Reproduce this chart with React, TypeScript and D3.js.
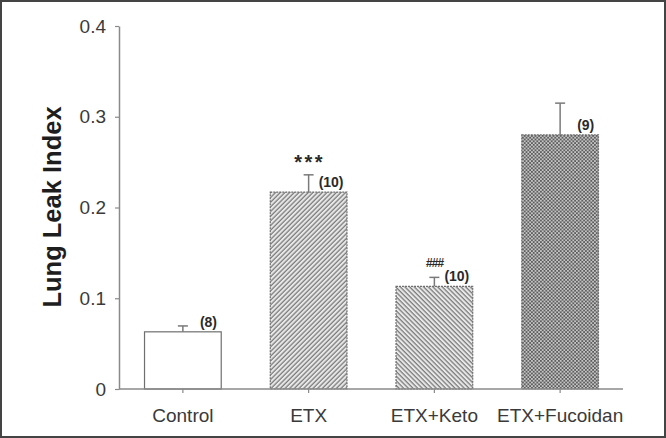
import React, { useEffect, useRef } from 'react';
import * as d3 from 'd3';

const categories = ['Control', 'ETX', 'ETX+Keto', 'ETX+Fucoidan'];
const means = [0.063, 0.217, 0.113, 0.28];
const sems = [0.0065, 0.019, 0.01, 0.035];
const nLabels = ['(8)', '(10)', '(10)', '(9)'];
const sigMarks = ['', '***', '###', ''];
const fills = ['#ffffff', 'url(#hatchFwd)', 'url(#hatchBack)', 'url(#checker)'];
const yTicks = [0, 0.1, 0.2, 0.3, 0.4];

const FONT = '"Liberation Sans", Arial, Helvetica, sans-serif';

const App = () => {
  const svgRef = useRef<SVGSVGElement>(null);

  useEffect(() => {
    const svg = d3.select(svgRef.current);
    svg.selectAll('*').remove();
    const width = 666, height = 438;

    // frame
    svg.append('rect')
      .attr('x', 1).attr('y', 1)
      .attr('width', width - 2).attr('height', height - 2)
      .attr('fill', '#fff')
      .attr('stroke', '#444')
      .attr('stroke-width', 2);

    const defs = svg.append('defs');
    const hatch = (id, angle) => {
      const p = defs.append('pattern')
        .attr('id', id)
        .attr('patternUnits', 'userSpaceOnUse')
        .attr('width', 3.3).attr('height', 3.3)
        .attr('patternTransform', `rotate(${angle})`);
      p.append('rect').attr('width', 3.3).attr('height', 3.3).attr('fill', '#e8e8e8');
      p.append('line')
        .attr('x1', 1).attr('y1', -1).attr('x2', 1).attr('y2', 5)
        .attr('stroke', '#747474').attr('stroke-width', 1.2);
    };
    hatch('hatchFwd', 45);
    hatch('hatchBack', -45);

    const ck = defs.append('pattern')
      .attr('id', 'checker')
      .attr('patternUnits', 'userSpaceOnUse')
      .attr('width', 3.6).attr('height', 3.6);
    ck.append('rect').attr('width', 3.6).attr('height', 3.6).attr('fill', '#c4c4c4');
    ck.append('rect').attr('width', 1.8).attr('height', 1.8).attr('fill', '#5e5e5e');
    ck.append('rect').attr('x', 1.8).attr('y', 1.8).attr('width', 1.8).attr('height', 1.8).attr('fill', '#5e5e5e');

    const x = d3.scaleBand()
      .domain(categories)
      .range([120, 623])
      .paddingInner(0.39)
      .paddingOuter(0.195);

    const y = d3.scaleLinear().domain([0, 0.4]).range([389, 26]);

    const data = categories.map((c, i) => ({
      cat: c, mean: means[i], sem: sems[i], n: nLabels[i], sig: sigMarks[i], fill: fills[i]
    }));

    // bars
    svg.append('g')
      .selectAll('rect')
      .data(data)
      .enter()
      .append('rect')
      .attr('x', d => x(d.cat))
      .attr('y', d => y(d.mean))
      .attr('width', x.bandwidth())
      .attr('height', d => y(0) - y(d.mean))
      .attr('fill', d => d.fill)
      .attr('stroke', '#6f6f6f')
      .attr('stroke-width', 1.2)
      .attr('stroke-dasharray', (d, i) => (i === 0 ? null : '2,1'));

    // error bars (upper only)
    const cx = d => x(d.cat) + x.bandwidth() / 2;
    const eb = svg.append('g').attr('stroke', '#7a7a7a').attr('stroke-width', 1.5);
    eb.selectAll('line.v')
      .data(data)
      .enter()
      .append('line')
      .attr('x1', cx).attr('x2', cx)
      .attr('y1', d => y(d.mean)).attr('y2', d => y(d.mean + d.sem));
    eb.selectAll('line.c')
      .data(data)
      .enter()
      .append('line')
      .attr('x1', d => cx(d) - 5).attr('x2', d => cx(d) + 5)
      .attr('y1', d => y(d.mean + d.sem)).attr('y2', d => y(d.mean + d.sem));

    // axes
    const yAxis = d3.axisLeft(y)
      .tickValues(yTicks)
      .tickSize(4)
      .tickSizeOuter(0)
      .tickPadding(9)
      .tickFormat(d => (d === 0 ? '0' : d3.format('.1f')(d)));
    const gy = svg.append('g').attr('transform', 'translate(119,0)').call(yAxis);

    const xAxis = d3.axisBottom(x).tickSize(4).tickSizeOuter(0).tickPadding(16);
    const gx = svg.append('g').attr('transform', 'translate(0,389)').call(xAxis);
    gx.select('.domain').attr('d', 'M119,0H623');

    [gy, gx].forEach(g => {
      g.select('.domain').attr('stroke', '#8a8a8a').attr('stroke-width', 1.5);
      g.selectAll('.tick line').attr('stroke', '#8a8a8a').attr('stroke-width', 1.2);
      g.selectAll('.tick text')
        .attr('fill', '#3a3a3a')
        .style('font-family', FONT)
        .style('font-size', '19px');
    });

    // y label
    svg.append('text')
      .attr('transform', 'translate(61,207) rotate(-90)')
      .attr('text-anchor', 'middle')
      .attr('fill', '#1e1e1e')
      .style('font-family', FONT)
      .style('font-weight', 'bold')
      .style('font-size', '25.5px')
      .text('Lung Leak Index');

    // n labels
    svg.append('g')
      .selectAll('text')
      .data(data)
      .enter()
      .append('text')
      .attr('x', d => cx(d) + (d.n.length > 3 ? 10 : 17))
      .attr('y', d => y(d.mean) - 5)
      .attr('fill', '#2a2a2a')
      .style('font-family', FONT)
      .style('font-weight', 'bold')
      .style('font-size', '14px')
      .text(d => d.n);

    // significance marks
    svg.append('g')
      .selectAll('text')
      .data(data.filter(d => d.sig))
      .enter()
      .append('text')
      .attr('x', d => (d.sig === '***' ? cx(d) + 1 : cx(d)))
      .attr('y', d => (d.sig === '***' ? y(d.mean + d.sem) - 6 : y(d.mean + d.sem) - 10))
      .attr('text-anchor', 'middle')
      .attr('fill', '#2a2a2a')
      .style('font-family', FONT)
      .style('font-weight', 'bold')
      .style('font-style', d => (d.sig === '###' ? 'italic' : 'normal'))
      .style('font-size', d => (d.sig === '***' ? '20px' : '12px'))
      .style('letter-spacing', d => (d.sig === '###' ? '-1px' : '2.5px'))
      .text(d => d.sig);
  }, []);

  return (
    <svg
      ref={svgRef}
      width={666}
      height={438}
      style={{ position: 'absolute', left: 0, top: 0 }}
    />
  );
};

export default App;
